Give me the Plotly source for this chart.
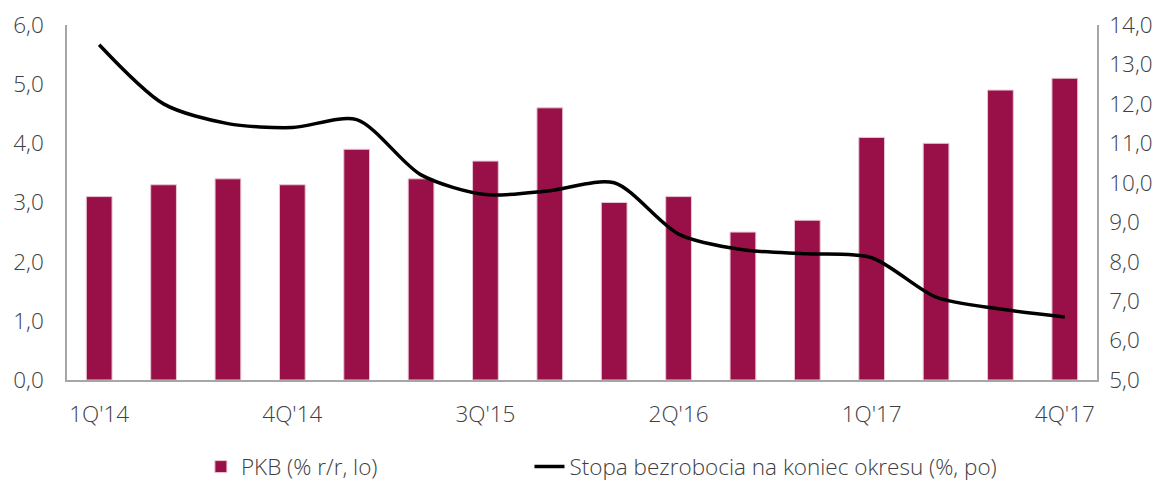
import plotly.graph_objects as go

quarters = ["1Q'14", "2Q'14", "3Q'14", "4Q'14", "1Q'15", "2Q'15", "3Q'15", "4Q'15",
            "1Q'16", "2Q'16", "3Q'16", "4Q'16", "1Q'17", "2Q'17", "3Q'17", "4Q'17"]
gdp = [3.1, 3.3, 3.4, 3.3, 3.9, 3.4, 3.7, 4.6, 3.0, 3.1, 2.5, 2.7, 4.1, 4.0, 4.9, 5.1]
unemp = [13.5, 12.0, 11.5, 11.4, 11.6, 10.2, 9.7, 9.8, 10.0, 8.7, 8.3, 8.2, 8.1, 7.1, 6.8, 6.6]
shown_ticks = ["1Q'14", "4Q'14", "3Q'15", "2Q'16", "1Q'17", "4Q'17"]
left_ticks = [0, 1, 2, 3, 4, 5, 6]
right_ticks = [5, 6, 7, 8, 9, 10, 11, 12, 13, 14]

font_family = "Open Sans"
txt = "#404040"
fsize = 22.5
tfont = dict(family=font_family, size=fsize, color=txt, weight=300)

fig = go.Figure()
fig.add_trace(go.Bar(
    x=quarters, y=gdp, name="PKB (% r/r, lo)",
    marker=dict(color="#990F47", line=dict(color="#E8C7D3", width=1)),
    width=0.40, legend="legend",
))
fig.add_trace(go.Scatter(
    x=quarters, y=unemp, name="Stopa bezrobocia na koniec okresu (%, po)",
    mode="lines", line=dict(color="black", width=3.5, shape="spline", smoothing=0.8),
    yaxis="y2", legend="legend2",
))

fig.update_layout(
    width=1160, height=474,
    margin=dict(l=59, r=71, t=17, b=102, autoexpand=False),
    paper_bgcolor="white", plot_bgcolor="white",
    font=tfont,
    xaxis=dict(
        type="category", tickmode="array", tickvals=shown_ticks, ticktext=shown_ticks,
        showline=True, linecolor="#A6A6A6", linewidth=1.5, showgrid=False,
        ticks="outside", ticklen=13, tickcolor="rgba(0,0,0,0)", tickfont=tfont,
    ),
    yaxis=dict(
        range=[0, 6], tickvals=left_ticks,
        ticktext=[f"{v:.1f}".replace(".", ",") for v in left_ticks],
        showline=True, linecolor="#A6A6A6", linewidth=1.5, showgrid=False,
        zeroline=False, ticks="outside", ticklen=17, tickcolor="rgba(0,0,0,0)",
        tickfont=tfont,
    ),
    yaxis2=dict(
        range=[5, 14], tickvals=right_ticks,
        ticktext=[f"{v:.1f}".replace(".", ",") for v in right_ticks],
        overlaying="y", side="right",
        showline=True, linecolor="#A6A6A6", linewidth=1.5, showgrid=False,
        zeroline=False, ticks="outside", ticklen=6, tickcolor="rgba(0,0,0,0)",
        tickfont=tfont,
    ),
    legend=dict(orientation="h", x=0.130, xanchor="left", y=-0.245, yanchor="middle",
                font=tfont, bgcolor="rgba(0,0,0,0)"),
    legend2=dict(orientation="h", x=0.449, xanchor="left", y=-0.245, yanchor="middle",
                 font=tfont, bgcolor="rgba(0,0,0,0)"),
    showlegend=True,
)

fig.write_html("out.html")
